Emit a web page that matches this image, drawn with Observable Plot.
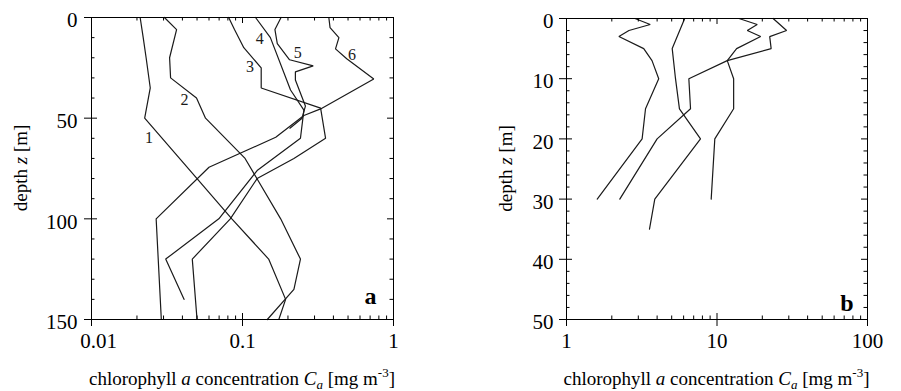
<!DOCTYPE html>
<html>
<head>
<meta charset="utf-8">
<script src="https://cdn.jsdelivr.net/npm/d3@7"></script>
<script src="https://cdn.jsdelivr.net/npm/@observablehq/plot@0.6"></script>
<style>
  body { margin: 0; background: #fff; }
  #wrap { position: relative; width: 901px; height: 391px; overflow: hidden; }
  #wrap svg { position: absolute; top: 0; }
</style>
</head>
<body>
<div id="wrap"></div>
<script>
// ---------- Panel a : chlorophyll profiles (depth m, concentration mg m^-3) ----------
const a1Depth = [0, 10, 20, 35, 50, 80, 100, 120, 140, 150];
const a1Chl   = [0.021, 0.022, 0.023, 0.0245, 0.0225, 0.050, 0.085, 0.149, 0.193, 0.174];
const a2Depth = [0, 6, 20, 30, 40, 50, 70, 100, 120, 135, 150];
const a2Chl   = [0.0304, 0.0366, 0.0329, 0.0334, 0.0496, 0.0569, 0.104, 0.179, 0.242, 0.219, 0.146];
const a3Depth = [0, 6, 15, 25, 35, 45, 60, 70, 80, 100, 120, 150];
const a3Chl   = [0.081, 0.0885, 0.102, 0.133, 0.133, 0.329, 0.355, 0.219, 0.125, 0.083, 0.0465, 0.050];
const a4Depth = [0, 10, 36, 46, 60, 76, 100, 120, 140];
const a4Chl   = [0.122, 0.153, 0.208, 0.255, 0.242, 0.125, 0.0697, 0.031, 0.041];
const a5Depth = [0, 6, 13, 21, 24, 27, 31, 44, 50, 55];
const a5Chl   = [0.180, 0.164, 0.170, 0.205, 0.294, 0.224, 0.224, 0.261, 0.248, 0.206];
const a6Depth = [0, 5, 10, 15.6, 20.5, 30.5, 45.4, 48.7, 59.5, 74.4, 100, 150];
const a6Chl   = [0.373, 0.38, 0.435, 0.413, 0.49, 0.74, 0.329, 0.255, 0.166, 0.06, 0.0268, 0.029];

// curve labels of panel a
const aLabelText  = ["1", "2", "3", "4", "5", "6"];
const aLabelChl   = [0.024, 0.0413, 0.112, 0.130, 0.232, 0.532];
const aLabelDepth = [60, 41, 24.7, 10.6, 17.5, 18.4];

// ---------- Panel b ----------
const b1Depth = [0, 1, 2, 3, 5, 7, 10, 15, 20, 30];
const b1Chl   = [2.85, 3.6, 2.6, 2.23, 3.26, 3.7, 4.1, 3.35, 3.18, 1.6];
const b2Depth = [0, 5, 10, 15, 20, 30, 35];
const b2Chl   = [6.1, 5.04, 5.3, 5.63, 7.77, 3.86, 3.56];
const b3Depth = [0, 1, 2, 3, 5, 7, 10, 15, 20, 30];
const b3Chl   = [14, 18.5, 15.9, 19.5, 13.5, 11.7, 12.9, 12.9, 9.67, 9.15];
const b4Depth = [0, 2, 3, 5, 7, 10, 15, 20, 30];
const b4Chl   = [23.6, 29, 22.4, 22.9, 11.7, 6.5, 6.67, 4.0, 2.26];

// ---------- ticks ----------
const aYMajor = [0, 50, 100, 150];
const aYMinor = [10, 20, 30, 40, 60, 70, 80, 90, 110, 120, 130, 140];
const aXMajor = [0.01, 0.1, 1];
const aXMinor = [0.02, 0.03, 0.04, 0.05, 0.06, 0.07, 0.08, 0.09, 0.2, 0.3, 0.4, 0.5, 0.6, 0.7, 0.8, 0.9];
const bYMajor = [0, 10, 20, 30, 40, 50];
const bYMinor = [2, 4, 6, 8, 12, 14, 16, 18, 22, 24, 26, 28, 32, 34, 36, 38, 42, 44, 46, 48];
const bXMajor = [1, 10, 100];
const bXMinor = [2, 3, 4, 5, 6, 7, 8, 9, 20, 30, 40, 50, 60, 70, 80, 90];

const FONT = "'Liberation Serif', 'Times New Roman', serif";
const TICKFS = 21;

function toRows(list) {
  const rows = [];
  list.forEach(([id, ds, cs]) => ds.forEach((d, i) => rows.push({id, z: d, c: cs[i]})));
  return rows;
}

const rowsA = toRows([["1", a1Depth, a1Chl], ["2", a2Depth, a2Chl], ["3", a3Depth, a3Chl],
                      ["4", a4Depth, a4Chl], ["5", a5Depth, a5Chl], ["6", a6Depth, a6Chl]]);
const rowsB = toRows([["1", b1Depth, b1Chl], ["2", b2Depth, b2Chl], ["3", b3Depth, b3Chl], ["4", b4Depth, b4Chl]]);
const labelsA = aLabelText.map((t, i) => ({t, c: aLabelChl[i], z: aLabelDepth[i]}));

function panel({rows, xDomain, yDomain, yMajor, yMinor, xMajor, xMinor, width, mL, mR, mT, mB,
                yPad, firstXShift, extra, letter, letterDx, letterDy}) {
  const height = 391;
  const fw = width - mL - mR, fh = height - mT - mB;
  const MAJ = 6, MAJOUT = 7, MIN = 3.5;
  const tk = {stroke: "black", strokeWidth: 1};
  const xTickText = {tickSize: 0, tickPadding: 14, fontSize: TICKFS, label: null, tickFormat: d => String(d)};
  return Plot.plot({
    width, height,
    marginLeft: mL, marginRight: mR, marginTop: mT, marginBottom: mB,
    style: {fontFamily: FONT, fontSize: "19px", background: "white", color: "black"},
    x: {type: "log", domain: xDomain},
    y: {domain: yDomain, reverse: true},
    marks: [
      Plot.line(rows, {x: "c", y: "z", z: "id", stroke: "#1a1a1a", strokeWidth: 1.2, strokeLinejoin: "miter"}),
      ...(extra || []),
      // left ticks
      Plot.ruleY(yMajor, {...tk, insetLeft: -MAJOUT, insetRight: fw - MAJ}),
      Plot.ruleY(yMinor, {...tk, insetRight: fw - MIN}),
      // right ticks
      Plot.ruleY(yMajor, {...tk, insetLeft: fw - MAJ}),
      Plot.ruleY(yMinor, {...tk, insetLeft: fw - MIN}),
      // bottom ticks
      Plot.ruleX(xMajor, {...tk, insetTop: fh - MAJ, insetBottom: -MAJOUT}),
      Plot.ruleX(xMinor, {...tk, insetTop: fh - MIN}),
      // top ticks
      Plot.ruleX(xMajor, {...tk, insetBottom: fh - MAJ}),
      Plot.ruleX(xMinor, {...tk, insetBottom: fh - MIN}),
      Plot.axisY({ticks: yMajor, tickSize: 0, tickPadding: yPad, fontSize: TICKFS, dy: 3, label: null, tickFormat: d => String(d)}),
      Plot.axisX({...xTickText, ticks: xMajor.slice(0, 1), dx: firstXShift}),
      Plot.axisX({...xTickText, ticks: xMajor.slice(1)}),
      Plot.frame({stroke: "black", strokeWidth: 1}),
      Plot.text([letter], {text: d => d, frameAnchor: "bottom-right", textAnchor: "end", lineAnchor: "bottom",
                           dx: letterDx, dy: letterDy, fontSize: 24, fontWeight: "bold", fill: "black"})
    ]
  });
}

function addTitles(svg, xCenter, xBaseline, yBaselineX, yCenter) {
  const s = d3.select(svg);
  const t = s.append("text").attr("x", xCenter).attr("y", xBaseline)
    .attr("text-anchor", "middle").attr("font-family", FONT).attr("font-size", 19).attr("fill", "black");
  t.append("tspan").text("chlorophyll ");
  t.append("tspan").attr("font-style", "italic").text("a");
  t.append("tspan").text(" concentration ");
  t.append("tspan").attr("font-style", "italic").text("C");
  t.append("tspan").attr("font-style", "italic").attr("font-size", 13).attr("dy", 4).text("a");
  t.append("tspan").attr("dy", -4).text(" [mg m");
  t.append("tspan").attr("font-size", 13).attr("dy", -8).text("-3");
  t.append("tspan").attr("dy", 8).text("]");

  const y = s.append("text").attr("transform", `translate(${yBaselineX},${yCenter}) rotate(-90)`)
    .attr("text-anchor", "middle").attr("font-family", FONT).attr("font-size", 19).attr("fill", "black");
  y.append("tspan").text("depth ");
  y.append("tspan").attr("font-style", "italic").text("z");
  y.append("tspan").text(" [m]");
}

const wrap = document.getElementById("wrap");

const svgA = panel({
  rows: rowsA, xDomain: [0.01, 1], yDomain: [0, 150], yMajor: aYMajor, yMinor: aYMinor,
  xMajor: aXMajor, xMinor: aXMinor, width: 450, mL: 91, mR: 57, mT: 17, mB: 72, yPad: 14,
  firstXShift: 7,
  extra: [Plot.text(labelsA, {x: "c", y: "z", text: "t", fontSize: 16, fill: "#1a1a1a"})],
  letter: "a", letterDx: -17, letterDy: -16
});
svgA.style.left = "0px";
addTitles(svgA, 242, 385, 27, 168);
wrap.appendChild(svgA);

const svgB = panel({
  rows: rowsB, xDomain: [1, 100], yDomain: [0, 50], yMajor: bYMajor, yMinor: bYMinor,
  xMajor: bXMajor, xMinor: bXMinor, width: 451, mL: 116, mR: 34, mT: 18, mB: 72, yPad: 13,
  firstXShift: 0,
  letter: "b", letterDx: -14, letterDy: -9
});
svgB.style.left = "450px";
addTitles(svgB, 266.5, 385, 62, 168.5);
wrap.appendChild(svgB);
</script>
</body>
</html>
